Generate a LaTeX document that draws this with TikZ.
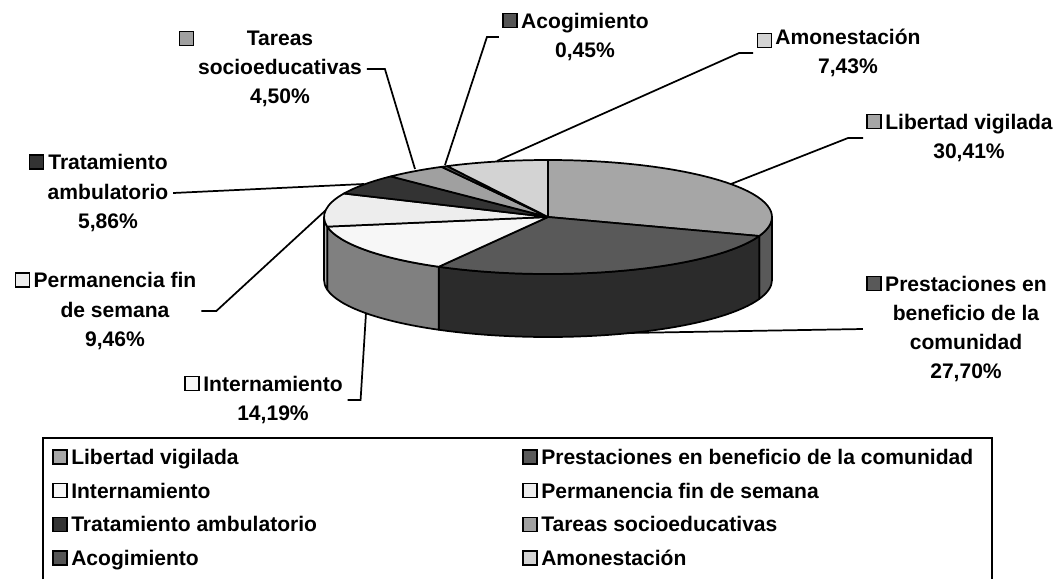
\documentclass[tikz,border=0pt]{standalone}
\usepackage{fontspec}
\setmainfont{Liberation Sans}
\usetikzlibrary{positioning}
\definecolor{libtop}{HTML}{A6A6A6}
\definecolor{libside}{HTML}{595959}
\definecolor{pretop}{HTML}{595959}
\definecolor{preside}{HTML}{2B2B2B}
\definecolor{inttop}{HTML}{F7F7F7}
\definecolor{intside}{HTML}{808080}
\definecolor{pertop}{HTML}{EDEDED}
\definecolor{perside}{HTML}{B0B0B0}
\definecolor{tratop}{HTML}{333333}
\definecolor{tartop}{HTML}{A0A0A0}
\definecolor{acotop}{HTML}{555555}
\definecolor{amotop}{HTML}{D3D3D3}

\begin{document}
\begin{tikzpicture}[x=0.75pt,y=-0.75pt,
    every node/.style={font=\fontsize{15.8}{21.8}\selectfont\bfseries},
    lab/.style={align=center,inner sep=0pt},
    key/.style={draw,line width=1pt,minimum size=10.5pt,inner sep=0pt,outer sep=3pt},
    legtext/.style={inner sep=0pt,text height=11.3pt,text depth=0pt},
    slice/.style={draw,line width=1.3pt,line join=round},
    leader/.style={line width=1.3pt}]
    \useasboundingbox (0,0) rectangle (1063,579);
    \coordinate (pc) at (548,217);
    %side of the pie (front half only, y points down so angles go clockwise)
    \filldraw[slice,fill=libside] (pc) ++(0:224 and 57) arc[start angle=0,end angle=19.48,x radius=224,y radius=57] -- ++(0,63) arc[start angle=19.48,end angle=0,x radius=224,y radius=57] -- cycle;
    \filldraw[slice,fill=preside] (pc) ++(19.48:224 and 57) arc[start angle=19.48,end angle=119.2,x radius=224,y radius=57] -- ++(0,63) arc[start angle=119.2,end angle=19.48,x radius=224,y radius=57] -- cycle;
    \filldraw[slice,fill=intside] (pc) ++(119.2:224 and 57) arc[start angle=119.2,end angle=170.28,x radius=224,y radius=57] -- ++(0,63) arc[start angle=170.28,end angle=119.2,x radius=224,y radius=57] -- cycle;
    \filldraw[slice,fill=perside] (pc) ++(170.28:224 and 57) arc[start angle=170.28,end angle=180,x radius=224,y radius=57] -- ++(0,63) arc[start angle=180,end angle=170.28,x radius=224,y radius=57] -- cycle;
    %top of the pie
    \filldraw[slice,fill=libtop] (pc) -- ++(-90:224 and 57) arc[start angle=-90,end angle=19.48,x radius=224,y radius=57] -- cycle;
    \filldraw[slice,fill=pretop] (pc) -- ++(19.48:224 and 57) arc[start angle=19.48,end angle=119.2,x radius=224,y radius=57] -- cycle;
    \filldraw[slice,fill=inttop] (pc) -- ++(119.2:224 and 57) arc[start angle=119.2,end angle=170.28,x radius=224,y radius=57] -- cycle;
    \filldraw[slice,fill=pertop] (pc) -- ++(170.28:224 and 57) arc[start angle=170.28,end angle=204.34,x radius=224,y radius=57] -- cycle;
    \filldraw[slice,fill=tratop] (pc) -- ++(204.34:224 and 57) arc[start angle=204.34,end angle=225.43,x radius=224,y radius=57] -- cycle;
    \filldraw[slice,fill=tartop] (pc) -- ++(225.43:224 and 57) arc[start angle=225.43,end angle=241.63,x radius=224,y radius=57] -- cycle;
    \filldraw[slice,fill=acotop] (pc) -- ++(241.63:224 and 57) arc[start angle=241.63,end angle=243.25,x radius=224,y radius=57] -- cycle;
    \filldraw[slice,fill=amotop] (pc) -- ++(243.25:224 and 57) arc[start angle=243.25,end angle=270,x radius=224,y radius=57] -- cycle;
    %where the leaders touch the pie
    \coordinate (plib) at (731,184);
    \coordinate (ppre) at (627,333);
    \coordinate (pint) at (366,313);
    \coordinate (pper) at (326,210);
    \coordinate (ptra) at (364,184);
    \coordinate (ptar) at (415,169);
    \coordinate (paco) at (445,165);
    \coordinate (pamo) at (497,161);
    %labels
    \node[lab] (llib) at (969,138) {Libertad vigilada\\30,41\%};
    \node[lab] (lpre) at (966,329) {Prestaciones en\\beneficio de la\\comunidad\\27,70\%};
    \node[lab] (lint) at (273,400) {Internamiento\\14,19\%};
    \node[lab] (lper) at (115,311) {Permanencia fin\\de semana\\9,46\%};
    \node[lab] (ltra) at (108,193) {Tratamiento\\ambulatorio\\5,86\%};
    \node[lab] (ltar) at (280,69) {Tareas\\socioeducativas\\4,50\%};
    \node[lab] (laco) at (585,37) {Acogimiento\\0,45\%};
    \node[lab] (lamo) at (848,53) {Amonestación\\7,43\%};
    \node[key,fill=libtop,left=0pt of llib.north west,yshift=-5.6pt] (klib) {};
    \node[key,fill=pretop,left=0pt of lpre.north west,yshift=-5.6pt] (kpre) {};
    \node[key,fill=inttop,left=0pt of lint.north west,yshift=-5.6pt] (kint) {};
    \node[key,fill=pertop,left=0pt of lper.north west,yshift=-5.6pt] (kper) {};
    \node[key,fill=tratop,left=0pt of ltra.north west,yshift=-5.6pt] (ktra) {};
    \node[key,fill=tartop,left=0pt of ltar.north west,yshift=-5.6pt] (ktar) {};
    \node[key,fill=acotop,left=0pt of laco.north west,yshift=-5.6pt] (kaco) {};
    \node[key,fill=amotop,left=0pt of lamo.north west,yshift=-8.5pt] (kamo) {};
    %leader lines
    \draw[leader] (klib.west |- llib.west) -- ++(-15,0) -- (plib);
    \draw[leader] (kpre.west |- lpre.west) -- (ppre);
    \draw[leader] ([xshift=3.5pt]lint.east) -- ++(13,0) -- (pint);
    \draw[leader] ([xshift=3.5pt]lper.east) -- ++(15,0) -- (pper);
    \draw[leader] ([xshift=3.5pt]ltra.east) -- (ptra);
    \draw[leader] ([xshift=3.5pt]ltar.east) -- ++(18,0) -- (ptar);
    \draw[leader] (kaco.west |- laco.west) -- ++(-12,0) -- (paco);
    \draw[leader] (kamo.west |- lamo.west) -- ++(-14,0) -- (pamo);
    %legend
    \draw[line width=1.3pt] (43,579) |- (992,438) -- (992,579);
    \node[key,fill=libtop] (g1) at (60,457) {};
    \node[legtext,right=0pt of g1] (t1) {Libertad vigilada};
    \node[key,fill=pretop] (g2) at (530,457) {};
    \node[legtext,right=0pt of g2] (t2) {Prestaciones en beneficio de la comunidad};
    \node[key,fill=inttop] (g3) at (60,490.7) {};
    \node[legtext,right=0pt of g3] (t3) {Internamiento};
    \node[key,fill=pertop] (g4) at (530,490.7) {};
    \node[legtext,right=0pt of g4] (t4) {Permanencia fin de semana};
    \node[key,fill=tratop] (g5) at (60,524.4) {};
    \node[legtext,right=0pt of g5] (t5) {Tratamiento ambulatorio};
    \node[key,fill=tartop] (g6) at (530,524.4) {};
    \node[legtext,right=0pt of g6] (t6) {Tareas socioeducativas};
    \node[key,fill=acotop] (g7) at (60,558) {};
    \node[legtext,right=0pt of g7] (t7) {Acogimiento};
    \node[key,fill=amotop] (g8) at (530,558) {};
    \node[legtext,right=0pt of g8] (t8) {Amonestación};
\end{tikzpicture}
\end{document}
